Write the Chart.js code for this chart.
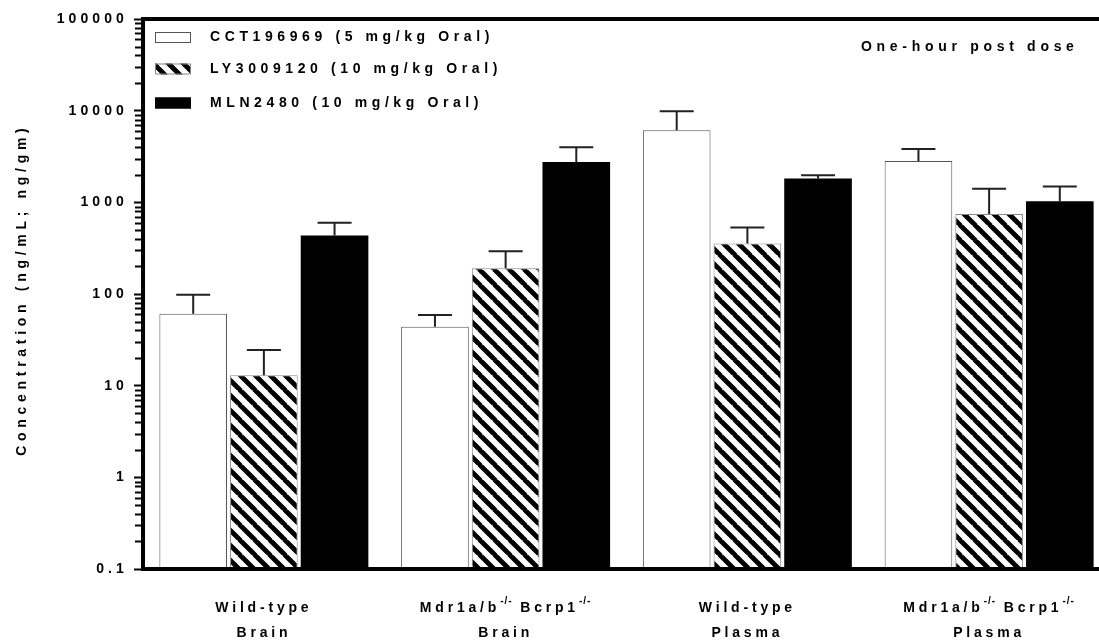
<!DOCTYPE html>
<html>
<head>
<meta charset="utf-8">
<script src="https://cdn.jsdelivr.net/npm/chart.js@4.4.0/dist/chart.umd.min.js"></script>
<style>
html,body{margin:0;padding:0;overflow:hidden;background:#fff}
canvas{display:block}
</style>
</head>
<body>
<canvas id="conc" width="1110" height="643"></canvas>
<script>
// groups on the x axis, ^{..} marks a superscript
const categories = [
  ['Wild-type', 'Brain'],
  ['Mdr1a/b^{-/-} Bcrp1^{-/-}', 'Brain'],
  ['Wild-type', 'Plasma'],
  ['Mdr1a/b^{-/-} Bcrp1^{-/-}', 'Plasma']
];
const seriesNames = ['CCT196969 (5 mg/kg Oral)', 'LY3009120 (10 mg/kg Oral)', 'MLN2480 (10 mg/kg Oral)'];
// means and SD (upper error bars), ng/mL or ng/gm
const cctMean = [61, 44, 6110, 2830];
const cctSD   = [37, 15, 3740, 990];
const lyMean  = [13, 191, 355, 747];
const lySD    = [11.5, 102, 175, 663];
const mlnMean = [434, 2760, 1814, 1028];
const mlnSD   = [166, 1230, 160, 456];
const yTicks = [0.1, 1, 10, 100, 1000, 10000, 100000];
const yTitle = 'Concentration (ng/mL; ng/gm)';
const note = 'One-hour post dose';

const FONT = '"Liberation Sans", Arial, sans-serif';
const canvas = document.getElementById('conc');
const ctx = canvas.getContext('2d');

function hatch() {
  const c = document.createElement('canvas');
  c.width = 15; c.height = 15;
  const g = c.getContext('2d');
  g.fillStyle = '#fff';
  g.fillRect(0, 0, 15, 15);
  g.strokeStyle = '#000';
  g.lineWidth = 4.8;
  g.beginPath();
  for (const o of [-15, 0, 15]) { g.moveTo(o - 1, -1); g.lineTo(o + 16, 16); }
  g.stroke();
  return ctx.createPattern(c, 'repeat');
}
const hatchFill = hatch();
const fills = ['#ffffff', hatchFill, '#000000'];
const borders = ['#555555', '#888888', '#000000'];
const sds = [cctSD, lySD, mlnSD];

const isDecade = v => Math.abs(Math.log10(v) - Math.round(Math.log10(v))) < 1e-9;

function spacedText(c, txt, x, y, spacing, align) {
  c.letterSpacing = spacing + 'px';
  let w = c.measureText(txt).width - spacing;
  let sx = x;
  if (align === 'center') sx = x - w / 2;
  else if (align === 'right') sx = x - w;
  c.textAlign = 'left';
  c.fillText(txt, sx, y);
}

// draws a line with ^{...} superscripts centred on x
function labelWithSup(c, txt, x, y) {
  const parts = txt.split(/\^\{([^}]*)\}/);
  const segs = parts.map((p, i) => ({ t: p, sup: i % 2 === 1 }));
  let total = 0;
  for (const s of segs) {
    c.font = s.sup ? 'bold 10px ' + FONT : 'bold 14px ' + FONT;
    c.letterSpacing = s.sup ? '1px' : '3.8px';
    s.w = c.measureText(s.t).width;
    total += s.w;
  }
  let cx = x - total / 2;
  c.textAlign = 'left';
  for (const s of segs) {
    c.font = s.sup ? 'bold 10px ' + FONT : 'bold 14px ' + FONT;
    c.letterSpacing = s.sup ? '1px' : '3.8px';
    c.fillText(s.t, cx, s.sup ? y - 7 : y);
    cx += s.w;
  }
}

const decor = {
  id: 'decor',
  beforeDraw(chart) { chart.ctx.letterSpacing = '4.1px'; },
  afterDatasetsDraw(chart) {
    const c = chart.ctx, ys = chart.scales.y;
    c.save();
    c.strokeStyle = '#222';
    c.lineWidth = 2;
    chart.data.datasets.forEach((ds, d) => {
      chart.getDatasetMeta(d).data.forEach((bar, i) => {
        const top = ys.getPixelForValue(ds.data[i] + sds[d][i]);
        c.beginPath();
        c.moveTo(bar.x, bar.y);
        c.lineTo(bar.x, top);
        c.moveTo(bar.x - 17, top);
        c.lineTo(bar.x + 17, top);
        c.stroke();
      });
    });
    c.restore();
  },
  afterDraw(chart) {
    const c = chart.ctx, a = chart.chartArea, ys = chart.scales.y, xs = chart.scales.x;
    c.save();
    c.letterSpacing = '0px';
    // top frame line and bottom axis over the bars
    c.strokeStyle = '#000';
    c.lineWidth = 4;
    c.beginPath();
    c.moveTo(a.left - 2, a.top);
    c.lineTo(a.right, a.top);
    c.moveTo(a.left - 2, a.bottom);
    c.lineTo(a.right, a.bottom);
    c.stroke();
    // minor ticks
    c.lineWidth = 2;
    c.beginPath();
    ys.ticks.forEach(t => {
      if (isDecade(t.value)) return;
      const py = Math.round(ys.getPixelForValue(t.value)) + 0.5;
      c.moveTo(a.left - 8, py);
      c.lineTo(a.left - 2, py);
    });
    c.stroke();
    // legend
    const ly = [37.5, 69, 103];
    c.textBaseline = 'middle';
    c.font = 'bold 14px ' + FONT;
    seriesNames.forEach((n, k) => {
      c.fillStyle = fills[k];
      c.fillRect(155, ly[k] - 5.5, 36, 11);
      c.strokeStyle = borders[k];
      c.lineWidth = 1;
      c.strokeRect(155.5, ly[k] - 5, 35, 10);
      c.fillStyle = '#000';
      spacedText(c, n, 210, ly[k], 4.6, 'left');
    });
    // note, top right
    spacedText(c, note, 861, 47, 4.7, 'left');
    // y title
    c.save();
    c.translate(22, (a.top + a.bottom) / 2 - 2);
    c.rotate(-Math.PI / 2);
    c.font = 'bold 14px ' + FONT;
    spacedText(c, yTitle, 0, 0, 4.7, 'center');
    c.restore();
    // category labels
    categories.forEach((lines, i) => {
      const px = xs.getPixelForValue(i);
      c.fillStyle = '#000';
      labelWithSup(c, lines[0], px, 608);
      labelWithSup(c, lines[1], px, 633);
    });
    c.restore();
  }
};

new Chart(ctx, {
  type: 'bar',
  data: {
    labels: categories.map(l => l.join(' ')),
    datasets: [
      { label: seriesNames[0], data: cctMean, backgroundColor: fills[0], borderColor: borders[0], borderWidth: 1 },
      { label: seriesNames[1], data: lyMean, backgroundColor: fills[1], borderColor: borders[1], borderWidth: 1 },
      { label: seriesNames[2], data: mlnMean, backgroundColor: fills[2], borderColor: borders[2], borderWidth: 0 }
    ]
  },
  options: {
    responsive: false,
    animation: false,
    devicePixelRatio: 1,
    layout: { padding: { top: 19, left: 0, right: 0, bottom: 0 } },
    categoryPercentage: 0.877,
    barPercentage: 0.957,
    plugins: { legend: { display: false }, tooltip: { enabled: false } },
    scales: {
      x: {
        ticks: { display: false },
        grid: { display: true, drawOnChartArea: false, drawTicks: false },
        border: { display: true, color: '#000', width: 4 },
        afterFit: s => { s.height = 74; }
      },
      y: {
        type: 'logarithmic',
        min: 0.1,
        max: 100000,
        afterFit: s => { s.width = 143; },
        afterBuildTicks: s => {
          const out = [];
          for (let e = -1; e < 5; e++) {
            for (let m = 1; m < 10; m++) out.push({ value: +(m * Math.pow(10, e)).toPrecision(3) });
          }
          out.push({ value: yTicks[yTicks.length - 1] });
          s.ticks = out;
        },
        ticks: {
          autoSkip: false,
          color: '#000',
          padding: 6,
          font: { family: FONT, size: 14, weight: 'bold' },
          callback: v => (yTicks.includes(v) ? String(v) : '')
        },
        grid: {
          drawOnChartArea: false,
          tickLength: 9,
          tickWidth: 2,
          tickColor: c => (c.tick && isDecade(c.tick.value) ? '#000' : 'rgba(0,0,0,0)')
        },
        border: { display: true, color: '#000', width: 4 }
      }
    }
  },
  plugins: [decor]
});
</script>
</body>
</html>
